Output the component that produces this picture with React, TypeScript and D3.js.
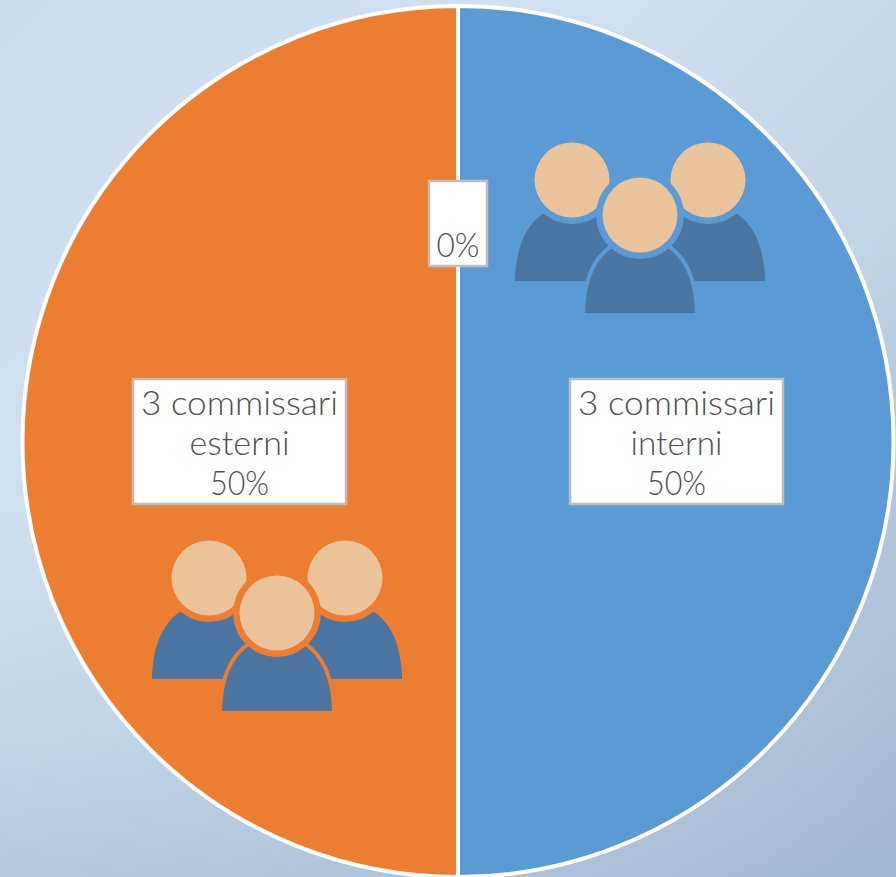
import React from "react";
import * as d3 from "d3";

const W = 896;
const H = 877;

const categories = ["3 commissari interni", "0", "3 commissari esterni"];
const values = [3, 0, 3];
const sliceColors = ["#5b9bd5", "#a5a5a5", "#ed7d31"];
const percentLabels = ["50%", "0%", "50%"];

const FONT = "'Lato', 'Open Sans', sans-serif";
const TEXT = "#505050";
const BORDER = "#bdbdbd";
const BODY = "#4a75a0";
const HEAD = "#eac39b";

const BODY_PATH =
  "M -55 0 C -54 -32 -45 -53 -28 -65 L 28 -65 C 45 -53 54 -32 55 0 Z";

function People({ x, y, halo }: { x: number; y: number; halo: string }) {
  // x,y = bottom-centre of the front figure
  const back = [-68, 68];
  return (
    <g transform={`translate(${x},${y})`}>
      {back.map((dx) => (
        <g key={dx}>
          <path d={BODY_PATH} transform={`translate(${dx + (dx < 0 ? -0.5 : 0.5)},-32) scale(1.03,1.03)`} fill={BODY} />
          <circle cx={dx} cy={-133} r={44} fill={halo} />
          <circle cx={dx} cy={-133} r={37.5} fill={HEAD} />
        </g>
      ))}
      <path d={BODY_PATH} fill={BODY} stroke={halo} strokeWidth={8} />
      <path d={BODY_PATH} fill={BODY} />
      <circle cx={0} cy={-98} r={44} fill={halo} />
      <circle cx={0} cy={-98} r={37.5} fill={HEAD} />
    </g>
  );
}

function LabelBox({
  x0, y0, x1, y1, lines, lineBaselines, widths,
}: {
  x0: number; y0: number; x1: number; y1: number;
  lines: string[]; lineBaselines: number[]; widths: number[];
}) {
  const cx = (x0 + x1) / 2;
  return (
    <g>
      <rect x={x0} y={y0} width={x1 - x0} height={y1 - y0} fill="#ffffff" stroke={BORDER} strokeWidth={2.5} />
      {lines.map((l, i) => (
        <text
          key={i}
          x={cx}
          y={lineBaselines[i]}
          textAnchor="middle"
          fontFamily={FONT}
          fontWeight={300}
          fontSize={33}
          fill={TEXT}
          textLength={widths[i]}
          lengthAdjust="spacingAndGlyphs"
        >
          {l}
        </text>
      ))}
    </g>
  );
}

export default function App() {
  const cx = 458;
  const cy = 441.5;
  const r = 435.5;
  const pie = d3.pie<number>().sort(null).value((d) => d);
  const arcs = pie(values);
  const arc = d3.arc<d3.PieArcDatum<number>>().innerRadius(0).outerRadius(r);

  return (
    <svg
      width={W}
      height={H}
      viewBox={`0 0 ${W} ${H}`}
      style={{ position: "fixed", left: 0, top: 0, display: "block" }}
    >
      <defs>
        <linearGradient id="bgLin" gradientUnits="userSpaceOnUse" x1={0} y1={0} x2={896} y2={877}>
          <stop offset="0" stopColor="#cbdef0" />
          <stop offset="0.35" stopColor="#cfe0f1" />
          <stop offset="0.62" stopColor="#c3d5e8" />
          <stop offset="0.82" stopColor="#adbfd5" />
          <stop offset="1" stopColor="#8fa4bf" />
        </linearGradient>
        <linearGradient id="bgBL" gradientUnits="userSpaceOnUse" x1={0} y1={440} x2={0} y2={877}>
          <stop offset="0" stopColor="#cfe2f3" stopOpacity={0} />
          <stop offset="1" stopColor="#a9c1da" stopOpacity={0.7} />
        </linearGradient>
      </defs>
      <rect width={W} height={H} fill="url(#bgLin)" />
      <rect width={W} height={H} fill="url(#bgBL)" />
      <g transform={`translate(${cx},${cy})`}>
        {arcs.map((a, i) => (
          <path
            key={categories[i]}
            d={arc(a) ?? ""}
            fill={sliceColors[i]}
            stroke="#ffffff"
            strokeWidth={4}
          />
        ))}
      </g>
      <People x={640} y={313} halo={sliceColors[0]} />
      <People x={277} y={711} halo={sliceColors[2]} />
      <LabelBox
        x0={570} y0={379} x1={783} y1={504}
        lines={["3 commissari", "interni", percentLabels[0]]}
        lineBaselines={[415, 455, 495]}
        widths={[197, 92, 59]}
      />
      <LabelBox
        x0={429} y0={181} x1={487} y1={266}
        lines={[percentLabels[1]]}
        lineBaselines={[257]}
        widths={[43]}
      />
      <LabelBox
        x0={133} y0={379} x1={346} y1={504}
        lines={["3 commissari", "esterni", percentLabels[2]]}
        lineBaselines={[415, 455, 495]}
        widths={[197, 100, 59]}
      />
    </svg>
  );
}
